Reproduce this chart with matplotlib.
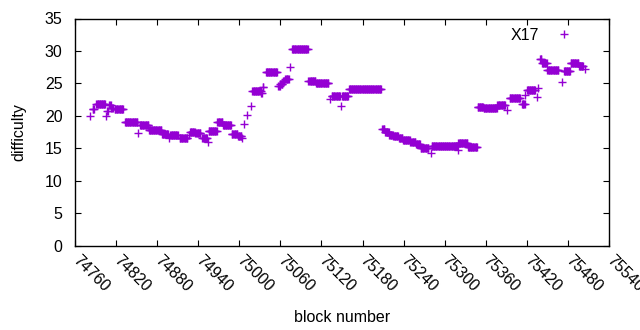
import numpy as np
import matplotlib
matplotlib.use("Agg")
import matplotlib.pyplot as plt

# Runs of consecutive blocks sharing the same difficulty
run_start = [74782, 74786, 74791, 74805, 74807, 74810, 74813, 74818, 74833, 74852,
             74855, 74868, 74887, 74897, 74899, 74913, 74927, 74928, 74936, 74946,
             74954, 74955, 74968, 74976, 74989, 74998, 75004, 75007, 75011, 75017,
             75019, 75032, 75034, 75039, 75057, 75060, 75064, 75067, 75074, 75077,
             75101, 75112, 75132, 75135, 75148, 75150, 75160, 75209, 75213, 75219,
             75225, 75233, 75239, 75250, 75258, 75265, 75280, 75281, 75319, 75320,
             75334, 75348, 75357, 75377, 75391, 75395, 75413, 75418, 75420, 75435,
             75436, 75439, 75442, 75450, 75471, 75474, 75484, 75496, 75505]
run_end = [74782, 74788, 74804, 74805, 74808, 74812, 74815, 74830, 74851, 74852,
           74867, 74886, 74896, 74897, 74910, 74924, 74927, 74935, 74943, 74953,
           74954, 74967, 74975, 74988, 74997, 75003, 75004, 75007, 75011, 75017,
           75031, 75033, 75035, 75055, 75059, 75063, 75066, 75072, 75074, 75100,
           75111, 75130, 75132, 75147, 75148, 75159, 75207, 75212, 75218, 75224,
           75232, 75238, 75249, 75257, 75264, 75276, 75280, 75318, 75319, 75333,
           75347, 75356, 75376, 75388, 75391, 75410, 75417, 75418, 75432, 75435,
           75436, 75441, 75449, 75466, 75471, 75483, 75495, 75502, 75505]
run_value = [20.0, 21.0, 21.8, 19.9, 20.8, 21.6, 21.2, 21.0, 19.1, 17.4,
             18.6, 17.8, 17.2, 16.6, 17.0, 16.5, 17.0, 17.5, 17.4, 16.5,
             15.9, 17.6, 19.0, 18.6, 17.2, 16.9, 16.6, 18.7, 20.1, 21.5,
             23.8, 23.5, 24.4, 26.7, 24.6, 24.9, 25.3, 25.7, 27.5, 30.3,
             25.4, 25.0, 22.6, 23.0, 21.5, 23.0, 24.2, 17.9, 17.5, 17.1,
             16.9, 16.6, 16.2, 16.0, 15.6, 15.0, 14.2, 15.3, 14.7, 15.8,
             15.2, 21.4, 21.2, 21.6, 20.9, 22.8, 21.8, 23.2, 23.9, 22.9,
             24.3, 28.7, 28.2, 27.0, 25.2, 26.9, 28.1, 27.6, 27.2]

x_ticks = list(range(74760, 75541, 60))
y_ticks = list(range(0, 36, 5))

blocks = []
diffs = []
for s, e, v in zip(run_start, run_end, run_value):
    for b in range(s, e + 1):
        blocks.append(b)
        diffs.append(v)

FS = 11.5
plt.rcParams['font.family'] = ['Liberation Sans', 'DejaVu Sans']
fig = plt.figure(figsize=(6.4, 3.3), dpi=100)
ax = fig.add_axes([75/640, 1 - 245.5/330, (609-75)/640, (245.5-18.5)/330])

ax.plot(blocks, diffs, linestyle='none', marker='+', markersize=5.5,
        markeredgewidth=1.0, color='#9400D3', label='X17')

ax.set_xlim(74760, 75540)
ax.set_ylim(0, 35)
ax.set_xticks(x_ticks)
ax.set_yticks(y_ticks)
ax.set_xticklabels([str(t) for t in x_ticks], rotation=-45, ha='left', va='center',
                   rotation_mode='anchor')
ax.tick_params(direction='in', length=4, width=0.8, top=True, right=True,
               labelsize=FS)
ax.tick_params(axis='y', pad=9)
ax.tick_params(axis='x', pad=9)
for sp in ax.spines.values():
    sp.set_linewidth(1.0)

ax.set_xlabel('block number', fontsize=FS, labelpad=11)
ax.set_ylabel('difficulty', fontsize=FS, labelpad=13)

ax.legend(loc='upper right', markerfirst=False, frameon=False, fontsize=FS,
          handlelength=1.6, borderaxespad=0.2, bbox_to_anchor=(0.958, 1.0))

fig.savefig('out.png', dpi=100)
